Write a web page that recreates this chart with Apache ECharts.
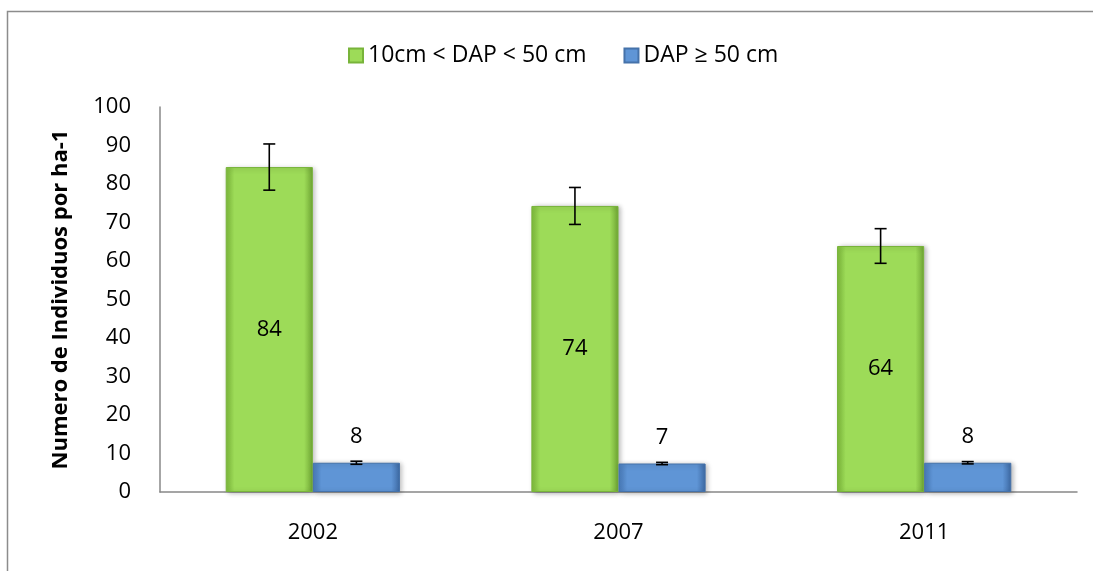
<!DOCTYPE html>
<html>
<head>
<meta charset="utf-8">
<script src="https://cdn.jsdelivr.net/npm/echarts@6/dist/echarts.min.js"></script>
<style>
  html, body { margin: 0; padding: 0; background: #fff; }
  #chart { width: 1093px; height: 571px; }
</style>
</head>
<body>
<div id="chart"></div>
<script>
// datos
const years = ["2002", "2007", "2011"];
const seriesNames = ["10cm < DAP < 50 cm", "DAP \u2265 50 cm"];
const medianos = [84.4, 74.3, 63.9];
const medianosErr = [6.0, 4.8, 4.5];
const grandes = [7.6, 7.4, 7.6];
const grandesErr = [0.4, 0.3, 0.3];
const yTicks = { min: 0, max: 100, interval: 10 };

const fontName = "Open Sans";

let chart = echarts.init(document.getElementById("chart"));

function bevel(c1, c2, c3) {
  return new echarts.graphic.LinearGradient(0, 0, 1, 0, [
    { offset: 0, color: c1 },
    { offset: 0.1, color: c2 },
    { offset: 0.9, color: c2 },
    { offset: 1, color: c3 },
  ]);
}

// barras de error, desplazadas segun la serie (0 = izquierda, 1 = derecha)
function errorSeries(values, errs, side) {
  let data = values.map((v, i) => [i, v - errs[i], v + errs[i]]);
  return {
    type: "custom",
    name: "err" + side,
    z: 10,
    data: data,
    encode: { x: 0, y: [1, 2] },
    renderItem: (params, api) => {
      let catW = api.size([1, 0])[0];
      let barW = (catW * (1 - 0.43)) / 2;
      let lo = api.coord([api.value(0), api.value(1)]);
      let hi = api.coord([api.value(0), api.value(2)]);
      let x = lo[0] + (side === 0 ? -barW / 2 : barW / 2);
      let cap = 6;
      let style = { stroke: "#000", lineWidth: 1.6 };
      return {
        type: "group",
        children: [
          { type: "line", shape: { x1: x, y1: hi[1], x2: x, y2: lo[1] }, style: style },
          { type: "line", shape: { x1: x - cap, y1: hi[1], x2: x + cap, y2: hi[1] }, style: style },
          { type: "line", shape: { x1: x - cap, y1: lo[1], x2: x + cap, y2: lo[1] }, style: style },
        ],
      };
    },
  };
}

let option = {
  animation: false,
  textStyle: { fontFamily: fontName },
  graphic: [
    {
      type: "rect",
      shape: { x: 7.5, y: 11.5, width: 1200, height: 700 },
      style: { fill: "none", stroke: "#8c8c8c", lineWidth: 1.5 },
      silent: true,
    },
  ],
  legend: {
    data: seriesNames,
    left: 343,
    top: 39,
    icon: "rect",
    itemWidth: 14,
    itemHeight: 14,
    itemGap: 37,
    textStyle: { fontSize: 23, color: "#000", fontFamily: fontName },
  },
  grid: { left: 160, right: 16, top: 107, bottom: 79 },
  xAxis: {
    type: "category",
    data: years,
    axisLine: { lineStyle: { color: "#888", width: 1.5 } },
    axisTick: { show: false },
    axisLabel: { color: "#000", fontSize: 22, margin: 30, fontFamily: fontName },
  },
  yAxis: {
    type: "value",
    min: yTicks.min,
    max: yTicks.max,
    interval: yTicks.interval,
    name: "Numero de Individuos por ha-1",
    nameLocation: "middle",
    nameGap: 88,
    nameTextStyle: { fontSize: 22, fontWeight: "bold", color: "#000", fontFamily: fontName },
    axisLine: { show: true, lineStyle: { color: "#888", width: 1.5 } },
    axisTick: { show: false },
    splitLine: { show: false },
    axisLabel: { color: "#000", fontSize: 22, margin: 29, fontFamily: fontName },
  },
  series: [
    {
      type: "bar",
      name: seriesNames[0],
      data: medianos,
      barGap: "0%",
      barCategoryGap: "43%",
      itemStyle: {
        color: bevel("#7fbd3c", "#9ddb58", "#6fa534"),
        borderColor: "#78b43a",
        borderWidth: 1,
        shadowColor: "rgba(0,0,0,0.3)",
        shadowBlur: 5,
        shadowOffsetX: 2,
        shadowOffsetY: 1,
      },
      label: {
        show: true,
        position: "inside",
        formatter: (p) => Math.round(p.value),
        color: "#000",
        fontSize: 22,
        fontFamily: fontName,
      },
    },
    {
      type: "bar",
      name: seriesNames[1],
      data: grandes,
      itemStyle: {
        color: bevel("#4a7dbd", "#5f95d6", "#3d69a3"),
        borderColor: "#4572aa",
        borderWidth: 1,
        shadowColor: "rgba(0,0,0,0.3)",
        shadowBlur: 5,
        shadowOffsetX: 2,
        shadowOffsetY: 1,
      },
      label: {
        show: true,
        position: "top",
        distance: 15,
        formatter: (p) => Math.round(p.value),
        color: "#000",
        fontSize: 22,
        fontFamily: fontName,
      },
    },
    errorSeries(medianos, medianosErr, 0),
    errorSeries(grandes, grandesErr, 1),
  ],
};

chart.setOption(option);
</script>
</body>
</html>
